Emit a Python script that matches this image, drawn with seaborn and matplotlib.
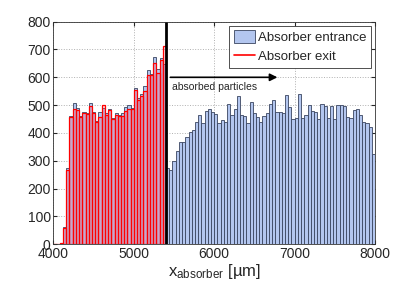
import numpy as np
import pandas as pd
import matplotlib
matplotlib.use("Agg")
import matplotlib.pyplot as plt
import seaborn as sns
from matplotlib.patches import Patch
from matplotlib.lines import Line2D

# 40 um bins from 4000 to 8000
bin_edges = list(range(4000, 8001, 40))
bin_centers = [e + 20 for e in bin_edges[:-1]]

entrance_counts = [
    0, 0, 3, 62, 275, 460, 506, 488, 462, 475,
    472, 506, 476, 442, 474, 490, 472, 485, 455, 472,
    466, 472, 494, 500, 490, 560, 525, 540, 567, 628,
    612, 672, 630, 668, 648, 273, 267, 299, 335, 367,
    367, 386, 404, 410, 440, 464, 434, 479, 485, 476,
    467, 434, 446, 440, 504, 464, 485, 534, 464, 461,
    434, 512, 470, 456, 440, 461, 470, 503, 518, 474,
    474, 470, 536, 494, 449, 452, 539, 452, 464, 500,
    479, 476, 449, 503, 497, 452, 497, 449, 499, 499,
    497, 458, 455, 482, 485, 464, 440, 437, 420, 325,
]
exit_counts = [
    0, 0, 3, 58, 268, 457, 487, 484, 458, 470,
    468, 498, 472, 439, 458, 500, 466, 482, 450, 466,
    462, 462, 480, 487, 487, 554, 520, 532, 551, 608,
    608, 652, 614, 664, 714,
]
absorber_edge = 5400

df_in = pd.DataFrame({'x': bin_centers, 'n': entrance_counts})
df_out = pd.DataFrame({'x': bin_centers[:len(exit_counts)], 'n': exit_counts})

sns.set_style("ticks")
plt.rcParams['font.family'] = ['Liberation Sans', 'DejaVu Sans']
plt.rcParams['mathtext.fontset'] = 'custom'
plt.rcParams['mathtext.rm'] = 'Liberation Sans'
plt.rcParams['mathtext.it'] = 'Liberation Sans:italic'

fig = plt.figure(figsize=(4.14, 2.89), dpi=100)
ax = fig.add_axes([0.129, 0.155, 0.777, 0.770])

sns.histplot(data=df_in, x='x', weights='n', bins=bin_edges, ax=ax,
             color='#b3c6ef', edgecolor='#3a4560', linewidth=0.6, alpha=1)
sns.histplot(data=df_out, x='x', weights='n', bins=bin_edges[:len(exit_counts) + 1],
             ax=ax, facecolor=(1, 0.3, 0.4, 0.25), edgecolor='red', linewidth=0.9)

ax.axvline(absorber_edge, color='black', lw=2)
ax.annotate('', xy=(6820, 600), xytext=(5420, 600),
            arrowprops=dict(arrowstyle='-|>', color='black', lw=1.2, mutation_scale=11))
ax.text(5480, 565, 'absorbed particles', fontsize=7.5, va='center', ha='left')

ax.set_xlim(4000, 8000)
ax.set_ylim(0, 800)
ax.set_xticks(range(4000, 8001, 1000))
ax.set_yticks(range(0, 801, 100))
ax.tick_params(direction='in', length=3, top=True, right=True, labelsize=10, pad=2)
ax.grid(True, linestyle=':', color='#b0b0b0', linewidth=0.7)
ax.set_axisbelow(True)
for s in ax.spines.values():
    s.set_linewidth(0.6)
    s.set_color('#333333')
ax.set_ylabel('')
ax.set_xlabel(r'x$_{\mathrm{absorber}}$ [µm]', fontsize=12, labelpad=1)

handles = [Patch(facecolor='#b3c6ef', edgecolor='#3a4560', linewidth=0.6),
           Line2D([], [], color='red', lw=1.2)]
leg = ax.legend(handles, ['Absorber entrance', 'Absorber exit'], loc='upper right',
                fontsize=9.5, fancybox=False, framealpha=1, edgecolor='#333333',
                borderaxespad=0.3, handlelength=1.6, handleheight=1.1,
                handletextpad=0.25, borderpad=0.35, labelspacing=0.4)
leg.get_frame().set_linewidth(0.6)

fig.savefig('out.png', dpi=100)
